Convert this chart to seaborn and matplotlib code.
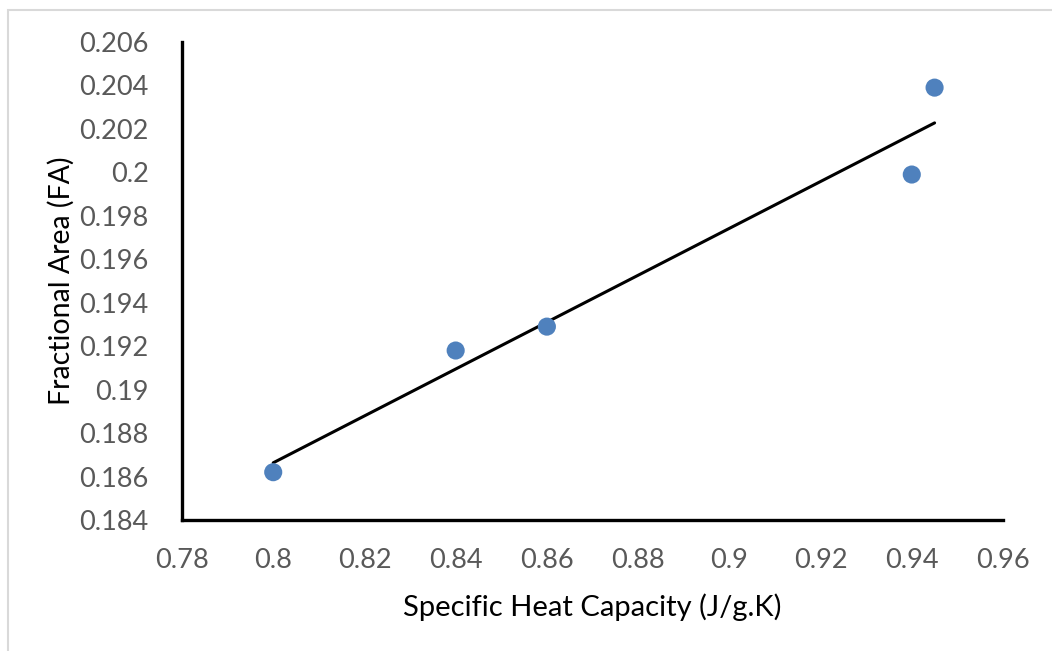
import numpy as np
import pandas as pd
import matplotlib
matplotlib.use("Agg")
import matplotlib.pyplot as plt
import seaborn as sns
from matplotlib.patches import Rectangle

# Datos
heat_capacity = [0.80, 0.84, 0.86, 0.94, 0.945]
fractional_area = [0.1862, 0.1918, 0.1929, 0.1999, 0.2039]

x_ticks = [0.78, 0.80, 0.82, 0.84, 0.86, 0.88, 0.90, 0.92, 0.94, 0.96]
x_tick_labels = ["0.78", "0.8", "0.82", "0.84", "0.86", "0.88", "0.9", "0.92", "0.94", "0.96"]
y_ticks = [0.184, 0.186, 0.188, 0.190, 0.192, 0.194, 0.196, 0.198, 0.200, 0.202, 0.204, 0.206]
y_tick_labels = ["0.184", "0.186", "0.188", "0.19", "0.192", "0.194", "0.196",
                 "0.198", "0.2", "0.202", "0.204", "0.206"]

df = pd.DataFrame({"x": heat_capacity, "y": fractional_area})

sns.set_theme(style="white")
plt.rcParams["font.family"] = ["Lato", "DejaVu Sans"]

fig = plt.figure(figsize=(10.52, 6.51), dpi=100)
ax = fig.add_axes([182 / 1052, 1 - 520 / 651, (1003 - 182) / 1052, (520 - 42) / 651])

# Linea de tendencia lineal (minimos cuadrados)
slope, intercept = np.polyfit(df["x"], df["y"], 1)
x_line = np.array([df["x"].min(), df["x"].max()])
ax.plot(x_line, slope * x_line + intercept, color="black", linewidth=2.2, zorder=2)

sns.scatterplot(data=df, x="x", y="y", ax=ax, color="#4f81bd", s=170,
                edgecolor="none", zorder=3, legend=False)

ax.set_xlim(0.78, 0.96)
ax.set_ylim(0.184, 0.206)
ax.set_xticks(x_ticks)
ax.set_xticklabels(x_tick_labels)
ax.set_yticks(y_ticks)
ax.set_yticklabels(y_tick_labels)
ax.tick_params(axis="both", length=0, labelsize=19.5, labelcolor="#595959")
ax.tick_params(axis="x", pad=20)
ax.tick_params(axis="y", pad=24)

for side in ["top", "right"]:
    ax.spines[side].set_visible(False)
for side in ["left", "bottom"]:
    ax.spines[side].set_color("black")
    ax.spines[side].set_linewidth(2.4)

ax.set_xlabel("Specific Heat Capacity (J/g.K)", fontsize=21, color="black", labelpad=15)
ax.set_ylabel("Fractional Area (FA)", fontsize=20.5, color="black", labelpad=3)

# Borde gris del area del grafico
fig.patches.append(Rectangle((7.5 / 1052, -0.1), 1.2, 1.1 - 10 / 651,
                             transform=fig.transFigure, fill=False,
                             edgecolor="#d9d9d9", linewidth=1.5))

fig.savefig("out.png", dpi=100)
